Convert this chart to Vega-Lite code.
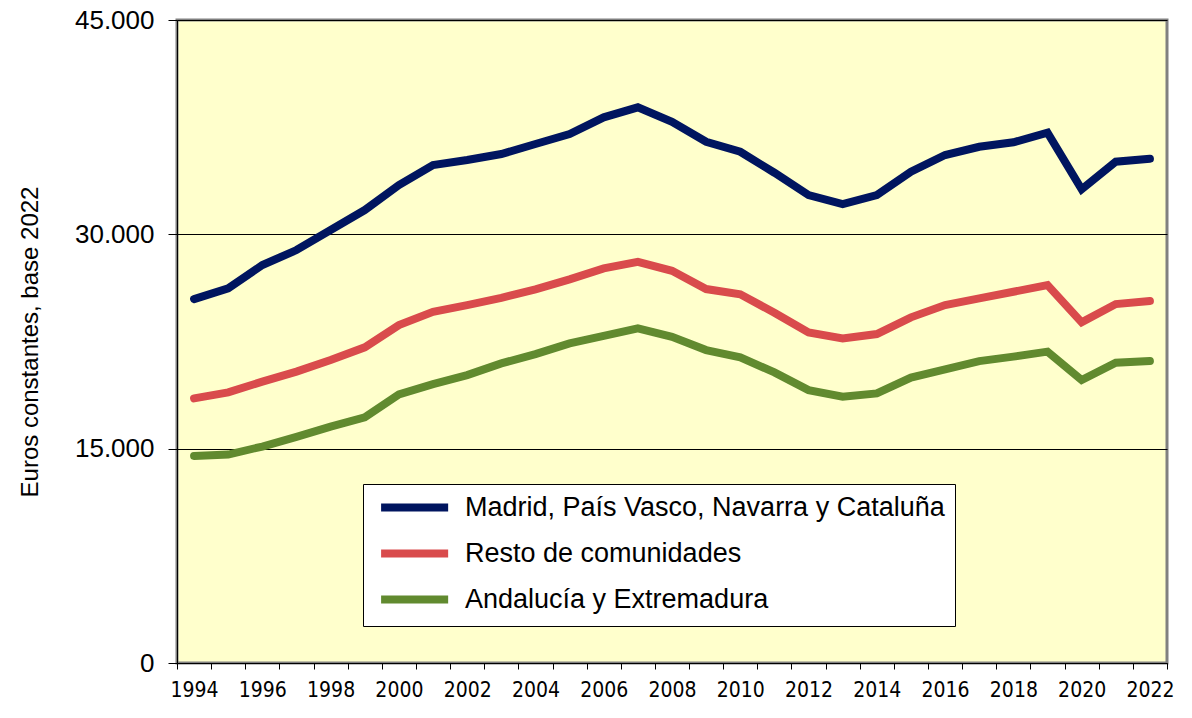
{
  "$schema": "https://vega.github.io/schema/vega-lite/v6.json",
  "width": 990,
  "height": 643,
  "autosize": {"type": "none"},
  "padding": {"left": 177, "top": 20, "right": 25, "bottom": 55},
  "background": "#ffffff",
  "config": {
    "font": "Liberation Sans",
    "view": {"fill": "#FFFFCC", "stroke": "#808080", "strokeWidth": 3}
  },
  "data": {"values": [
    {"year": "1994", "serie": "Madrid, País Vasco, Navarra y Cataluña", "value": 25470},
    {"year": "1995", "serie": "Madrid, País Vasco, Navarra y Cataluña", "value": 26220},
    {"year": "1996", "serie": "Madrid, País Vasco, Navarra y Cataluña", "value": 27850},
    {"year": "1997", "serie": "Madrid, País Vasco, Navarra y Cataluña", "value": 28900},
    {"year": "1998", "serie": "Madrid, País Vasco, Navarra y Cataluña", "value": 30300},
    {"year": "1999", "serie": "Madrid, País Vasco, Navarra y Cataluña", "value": 31700},
    {"year": "2000", "serie": "Madrid, País Vasco, Navarra y Cataluña", "value": 33450},
    {"year": "2001", "serie": "Madrid, País Vasco, Navarra y Cataluña", "value": 34850},
    {"year": "2002", "serie": "Madrid, País Vasco, Navarra y Cataluña", "value": 35200},
    {"year": "2003", "serie": "Madrid, País Vasco, Navarra y Cataluña", "value": 35620},
    {"year": "2004", "serie": "Madrid, País Vasco, Navarra y Cataluña", "value": 36320},
    {"year": "2005", "serie": "Madrid, País Vasco, Navarra y Cataluña", "value": 37020},
    {"year": "2006", "serie": "Madrid, País Vasco, Navarra y Cataluña", "value": 38190},
    {"year": "2007", "serie": "Madrid, País Vasco, Navarra y Cataluña", "value": 38890},
    {"year": "2008", "serie": "Madrid, País Vasco, Navarra y Cataluña", "value": 37880},
    {"year": "2009", "serie": "Madrid, País Vasco, Navarra y Cataluña", "value": 36480},
    {"year": "2010", "serie": "Madrid, País Vasco, Navarra y Cataluña", "value": 35780},
    {"year": "2011", "serie": "Madrid, País Vasco, Navarra y Cataluña", "value": 34310},
    {"year": "2012", "serie": "Madrid, País Vasco, Navarra y Cataluña", "value": 32750},
    {"year": "2013", "serie": "Madrid, País Vasco, Navarra y Cataluña", "value": 32120},
    {"year": "2014", "serie": "Madrid, País Vasco, Navarra y Cataluña", "value": 32750},
    {"year": "2015", "serie": "Madrid, País Vasco, Navarra y Cataluña", "value": 34380},
    {"year": "2016", "serie": "Madrid, País Vasco, Navarra y Cataluña", "value": 35550},
    {"year": "2017", "serie": "Madrid, País Vasco, Navarra y Cataluña", "value": 36130},
    {"year": "2018", "serie": "Madrid, País Vasco, Navarra y Cataluña", "value": 36440},
    {"year": "2019", "serie": "Madrid, País Vasco, Navarra y Cataluña", "value": 37110},
    {"year": "2020", "serie": "Madrid, País Vasco, Navarra y Cataluña", "value": 33150},
    {"year": "2021", "serie": "Madrid, País Vasco, Navarra y Cataluña", "value": 35080},
    {"year": "2022", "serie": "Madrid, País Vasco, Navarra y Cataluña", "value": 35290},
    {"year": "1994", "serie": "Resto de comunidades", "value": 18520},
    {"year": "1995", "serie": "Resto de comunidades", "value": 18940},
    {"year": "1996", "serie": "Resto de comunidades", "value": 19690},
    {"year": "1997", "serie": "Resto de comunidades", "value": 20390},
    {"year": "1998", "serie": "Resto de comunidades", "value": 21200},
    {"year": "1999", "serie": "Resto de comunidades", "value": 22090},
    {"year": "2000", "serie": "Resto de comunidades", "value": 23650},
    {"year": "2001", "serie": "Resto de comunidades", "value": 24580},
    {"year": "2002", "serie": "Resto de comunidades", "value": 25050},
    {"year": "2003", "serie": "Resto de comunidades", "value": 25550},
    {"year": "2004", "serie": "Resto de comunidades", "value": 26150},
    {"year": "2005", "serie": "Resto de comunidades", "value": 26850},
    {"year": "2006", "serie": "Resto de comunidades", "value": 27620},
    {"year": "2007", "serie": "Resto de comunidades", "value": 28080},
    {"year": "2008", "serie": "Resto de comunidades", "value": 27450},
    {"year": "2009", "serie": "Resto de comunidades", "value": 26170},
    {"year": "2010", "serie": "Resto de comunidades", "value": 25800},
    {"year": "2011", "serie": "Resto de comunidades", "value": 24510},
    {"year": "2012", "serie": "Resto de comunidades", "value": 23140},
    {"year": "2013", "serie": "Resto de comunidades", "value": 22720},
    {"year": "2014", "serie": "Resto de comunidades", "value": 23020},
    {"year": "2015", "serie": "Resto de comunidades", "value": 24190},
    {"year": "2016", "serie": "Resto de comunidades", "value": 25050},
    {"year": "2017", "serie": "Resto de comunidades", "value": 25520},
    {"year": "2018", "serie": "Resto de comunidades", "value": 25980},
    {"year": "2019", "serie": "Resto de comunidades", "value": 26450},
    {"year": "2020", "serie": "Resto de comunidades", "value": 23840},
    {"year": "2021", "serie": "Resto de comunidades", "value": 25120},
    {"year": "2022", "serie": "Resto de comunidades", "value": 25330},
    {"year": "1994", "serie": "Andalucía y Extremadura", "value": 14490},
    {"year": "1995", "serie": "Andalucía y Extremadura", "value": 14590},
    {"year": "1996", "serie": "Andalucía y Extremadura", "value": 15150},
    {"year": "1997", "serie": "Andalucía y Extremadura", "value": 15820},
    {"year": "1998", "serie": "Andalucía y Extremadura", "value": 16540},
    {"year": "1999", "serie": "Andalucía y Extremadura", "value": 17190},
    {"year": "2000", "serie": "Andalucía y Extremadura", "value": 18800},
    {"year": "2001", "serie": "Andalucía y Extremadura", "value": 19520},
    {"year": "2002", "serie": "Andalucía y Extremadura", "value": 20150},
    {"year": "2003", "serie": "Andalucía y Extremadura", "value": 20970},
    {"year": "2004", "serie": "Andalucía y Extremadura", "value": 21620},
    {"year": "2005", "serie": "Andalucía y Extremadura", "value": 22370},
    {"year": "2006", "serie": "Andalucía y Extremadura", "value": 22900},
    {"year": "2007", "serie": "Andalucía y Extremadura", "value": 23420},
    {"year": "2008", "serie": "Andalucía y Extremadura", "value": 22830},
    {"year": "2009", "serie": "Andalucía y Extremadura", "value": 21900},
    {"year": "2010", "serie": "Andalucía y Extremadura", "value": 21390},
    {"year": "2011", "serie": "Andalucía y Extremadura", "value": 20340},
    {"year": "2012", "serie": "Andalucía y Extremadura", "value": 19100},
    {"year": "2013", "serie": "Andalucía y Extremadura", "value": 18640},
    {"year": "2014", "serie": "Andalucía y Extremadura", "value": 18870},
    {"year": "2015", "serie": "Andalucía y Extremadura", "value": 19970},
    {"year": "2016", "serie": "Andalucía y Extremadura", "value": 20550},
    {"year": "2017", "serie": "Andalucía y Extremadura", "value": 21130},
    {"year": "2018", "serie": "Andalucía y Extremadura", "value": 21440},
    {"year": "2019", "serie": "Andalucía y Extremadura", "value": 21790},
    {"year": "2020", "serie": "Andalucía y Extremadura", "value": 19800},
    {"year": "2021", "serie": "Andalucía y Extremadura", "value": 21020},
    {"year": "2022", "serie": "Andalucía y Extremadura", "value": 21130}
  ]},
  "mark": {"type": "line", "strokeWidth": 8, "strokeCap": "round", "strokeJoin": "miter"},
  "encoding": {
    "x": {
      "field": "year", "type": "ordinal", "bandPosition": 0.5,
      "scale": {"type": "band", "paddingInner": 0, "paddingOuter": 0},
      "axis": {
        "title": null, "labelAngle": 0, "tickBand": "extent",
        "labelExpr": "toNumber(datum.value) % 2 == 0 ? datum.value : ''",
        "labelFont": "'Liberation Sans Narrow', 'DejaVu Sans Condensed', 'Liberation Sans', sans-serif",
        "labelFontSize": 21, "labelColor": "#000000",
        "labelPadding": 10, "tickSize": 6, "tickColor": "#000000", "domainColor": "#000000",
        "grid": false
      }
    },
    "y": {
      "field": "value", "type": "quantitative",
      "scale": {"domain": [0, 45000], "nice": false},
      "axis": {
        "values": [0, 15000, 30000, 45000],
        "labelExpr": "replace(format(datum.value, ',d'), ',', '.')",
        "labelFontSize": 26, "labelColor": "#000000", "labelPadding": 14,
        "tickSize": 9, "tickColor": "#000000", "domainColor": "#000000",
        "grid": true, "gridColor": "#000000", "gridWidth": 1, "gridOpacity": 1,
        "title": "Euros constantes, base 2022", "titleFontSize": 24, "titleFontWeight": "normal",
        "titleColor": "#000000", "titlePadding": 32
      }
    },
    "color": {
      "field": "serie", "type": "nominal",
      "scale": {
        "domain": ["Madrid, País Vasco, Navarra y Cataluña", "Resto de comunidades", "Andalucía y Extremadura"],
        "range": ["#00155F", "#D94B4C", "#618A2F"]
      },
      "legend": {
        "title": null, "orient": "none", "legendX": 186, "legendY": 464,
        "fillColor": "#ffffff", "strokeColor": "#000000", "padding": 10,
        "symbolType": "M-0.6,0H6.85", "symbolSize": 324, "symbolStrokeWidth": 8,
        "labelFontSize": 27, "labelColor": "#000000", "labelOffset": 65, "rowPadding": 13,
        "labelLimit": 700
      }
    }
  }
}
